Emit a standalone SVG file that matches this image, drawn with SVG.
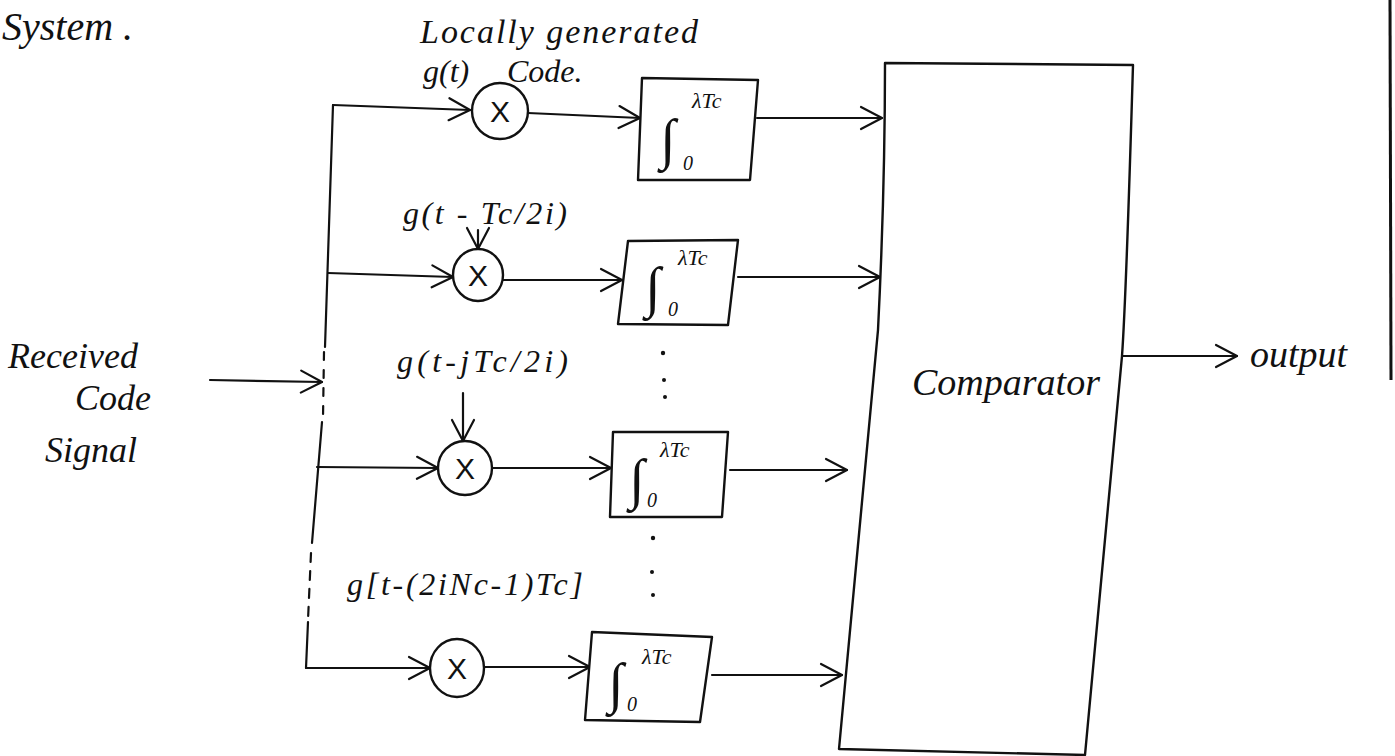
<svg xmlns="http://www.w3.org/2000/svg" width="1395" height="756" viewBox="0 0 1395 756">
<style>
.ln{fill:none;stroke:#111;stroke-width:2.2;stroke-linecap:round;stroke-linejoin:round}
.bx{fill:#fff;stroke:#111;stroke-width:2.4;stroke-linejoin:round}
.t{font-family:"Liberation Serif","DejaVu Serif",serif;font-style:italic;fill:#111}
.lab{font-size:32px}
.big{font-size:38px}
.in{font-size:36px}
.x{font-family:"Liberation Sans","DejaVu Sans",sans-serif;font-size:30px;fill:#111;text-anchor:middle}
.int{font-size:56px}
.sm{font-size:20px}
.sup{font-size:22px}
.dot{fill:#111}
</style>
<defs>
<marker id="ah" viewBox="0 0 26 26" markerWidth="26" markerHeight="26" refX="24" refY="13" orient="auto" markerUnits="userSpaceOnUse">
<path d="M3,2 L24,13 L3,24" fill="none" stroke="#111" stroke-width="2.2" stroke-linecap="round" stroke-linejoin="round"/>
</marker>
</defs>

<rect width="1395" height="756" fill="#fff"/>

<g id="title">
<text class="t" font-size="40" x="2" y="40">System .</text>
</g>

<g id="page-edge">
<line x1="1390" y1="0" x2="1391" y2="380" stroke="#111" stroke-width="3"/>
</g>

<g id="input-label">
<text class="t in" x="8" y="368">Received</text>
<text class="t in" x="75" y="410">Code</text>
<text class="t in" x="45" y="462">Signal</text>
</g>

<g id="connectors">
<!-- bus -->
<path class="ln" d="M333,105 L325,347"/>
<path class="ln" d="M324,352 L323,418" stroke-dasharray="8,10"/>
<path class="ln" d="M322,422 L312,543"/>
<path class="ln" d="M311,553 L308,620" stroke-dasharray="9,9"/>
<path class="ln" d="M308,622 L306,668"/>
<!-- input -->
<path class="ln" d="M210,380 L322,382" marker-end="url(#ah)"/>
<!-- branch 1 -->
<path class="ln" d="M333,105 L470,110" marker-end="url(#ah)"/>
<path class="ln" d="M528,113 L640,118" marker-end="url(#ah)"/>
<path class="ln" d="M757,118 L882,118" marker-end="url(#ah)"/>
<!-- branch 2 -->
<path class="ln" d="M328,273 L453,277" marker-end="url(#ah)"/>
<path class="ln" d="M478,230 L478,249" marker-end="url(#ah)"/>
<path class="ln" d="M503,280 L622,280" marker-end="url(#ah)"/>
<path class="ln" d="M738,277 L880,277" marker-end="url(#ah)"/>
<!-- branch 3 -->
<path class="ln" d="M317,467 L438,468" marker-end="url(#ah)"/>
<path class="ln" d="M463,393 L463,441" marker-end="url(#ah)"/>
<path class="ln" d="M492,468 L611,468" marker-end="url(#ah)"/>
<path class="ln" d="M730,470 L847,470" marker-end="url(#ah)"/>
<!-- branch 4 -->
<path class="ln" d="M306,668 L430,668" marker-end="url(#ah)"/>
<path class="ln" d="M484,667 L590,667" marker-end="url(#ah)"/>
<path class="ln" d="M712,675 L842,675" marker-end="url(#ah)"/>
<!-- output -->
<path class="ln" d="M1122,356 L1237,356" marker-end="url(#ah)"/>
</g>

<g id="label-top">
<text class="t" font-size="34" x="420" y="43" textLength="278">Locally generated</text>
<text class="t lab" x="423" y="82">g(t)</text>
<text class="t lab" x="507" y="82">Code.</text>
</g>

<g id="mult1">
<circle class="bx" cx="500" cy="111" r="28"/>
<text class="x" x="500" y="122">X</text>
</g>
<g id="int1">
<polygon class="bx" points="642,78 758,80 750,180 638,180"/>
<text class="t int" x="660" y="158">∫</text>
<text class="t sm" x="683" y="170">0</text>
<text class="t sup" x="692" y="108">λTc</text>
</g>

<g id="label2">
<text class="t lab" x="403" y="224" textLength="164">g(t - Tc/2i)</text>
</g>
<g id="mult2">
<ellipse class="bx" cx="478" cy="275" rx="25" ry="26"/>
<text class="x" x="478" y="286">X</text>
</g>
<g id="int2">
<polygon class="bx" points="628,241 738,240 728,325 618,324"/>
<text class="t int" x="645" y="306">∫</text>
<text class="t sm" x="668" y="316">0</text>
<text class="t sup" x="678" y="265">λTc</text>
</g>

<g id="label3">
<text class="t lab" x="397" y="372" textLength="171">g(t-jTc/2i)</text>
</g>
<g id="mult3">
<circle class="bx" cx="465" cy="468" r="27"/>
<text class="x" x="465" y="479">X</text>
</g>
<g id="int3">
<polygon class="bx" points="613,432 728,432 722,517 610,517"/>
<text class="t int" x="629" y="498">∫</text>
<text class="t sm" x="647" y="507">0</text>
<text class="t sup" x="660" y="457">λTc</text>
</g>

<g id="dots">
<circle class="dot" cx="663" cy="353" r="2.2"/>
<circle class="dot" cx="664" cy="380" r="2"/>
<circle class="dot" cx="665" cy="397" r="2"/>
<circle class="dot" cx="653" cy="538" r="2.2"/>
<circle class="dot" cx="652" cy="572" r="2"/>
<circle class="dot" cx="653" cy="595" r="2"/>
</g>

<g id="label4">
<text class="t lab" x="347" y="595" textLength="236">g[t-(2iNc-1)Tc]</text>
</g>
<g id="mult4">
<ellipse class="bx" cx="457" cy="668" rx="27" ry="29"/>
<text class="x" x="457" y="679">X</text>
</g>
<g id="int4">
<polygon class="bx" points="592,632 712,637 700,722 585,720"/>
<text class="t int" x="608" y="702">∫</text>
<text class="t sm" x="627" y="711">0</text>
<text class="t sup" x="642" y="664">λTc</text>
</g>

<g id="comparator">
<path class="bx" d="M885,63 L1133,65 C1129,200 1126,300 1122,356 L1085,755 L839,749 L878,330 C883,230 885,140 885,63 Z"/>
<text class="t big" x="912" y="395">Comparator</text>
</g>

<g id="output-label">
<text class="t big" x="1250" y="367">output</text>
</g>
</svg>
